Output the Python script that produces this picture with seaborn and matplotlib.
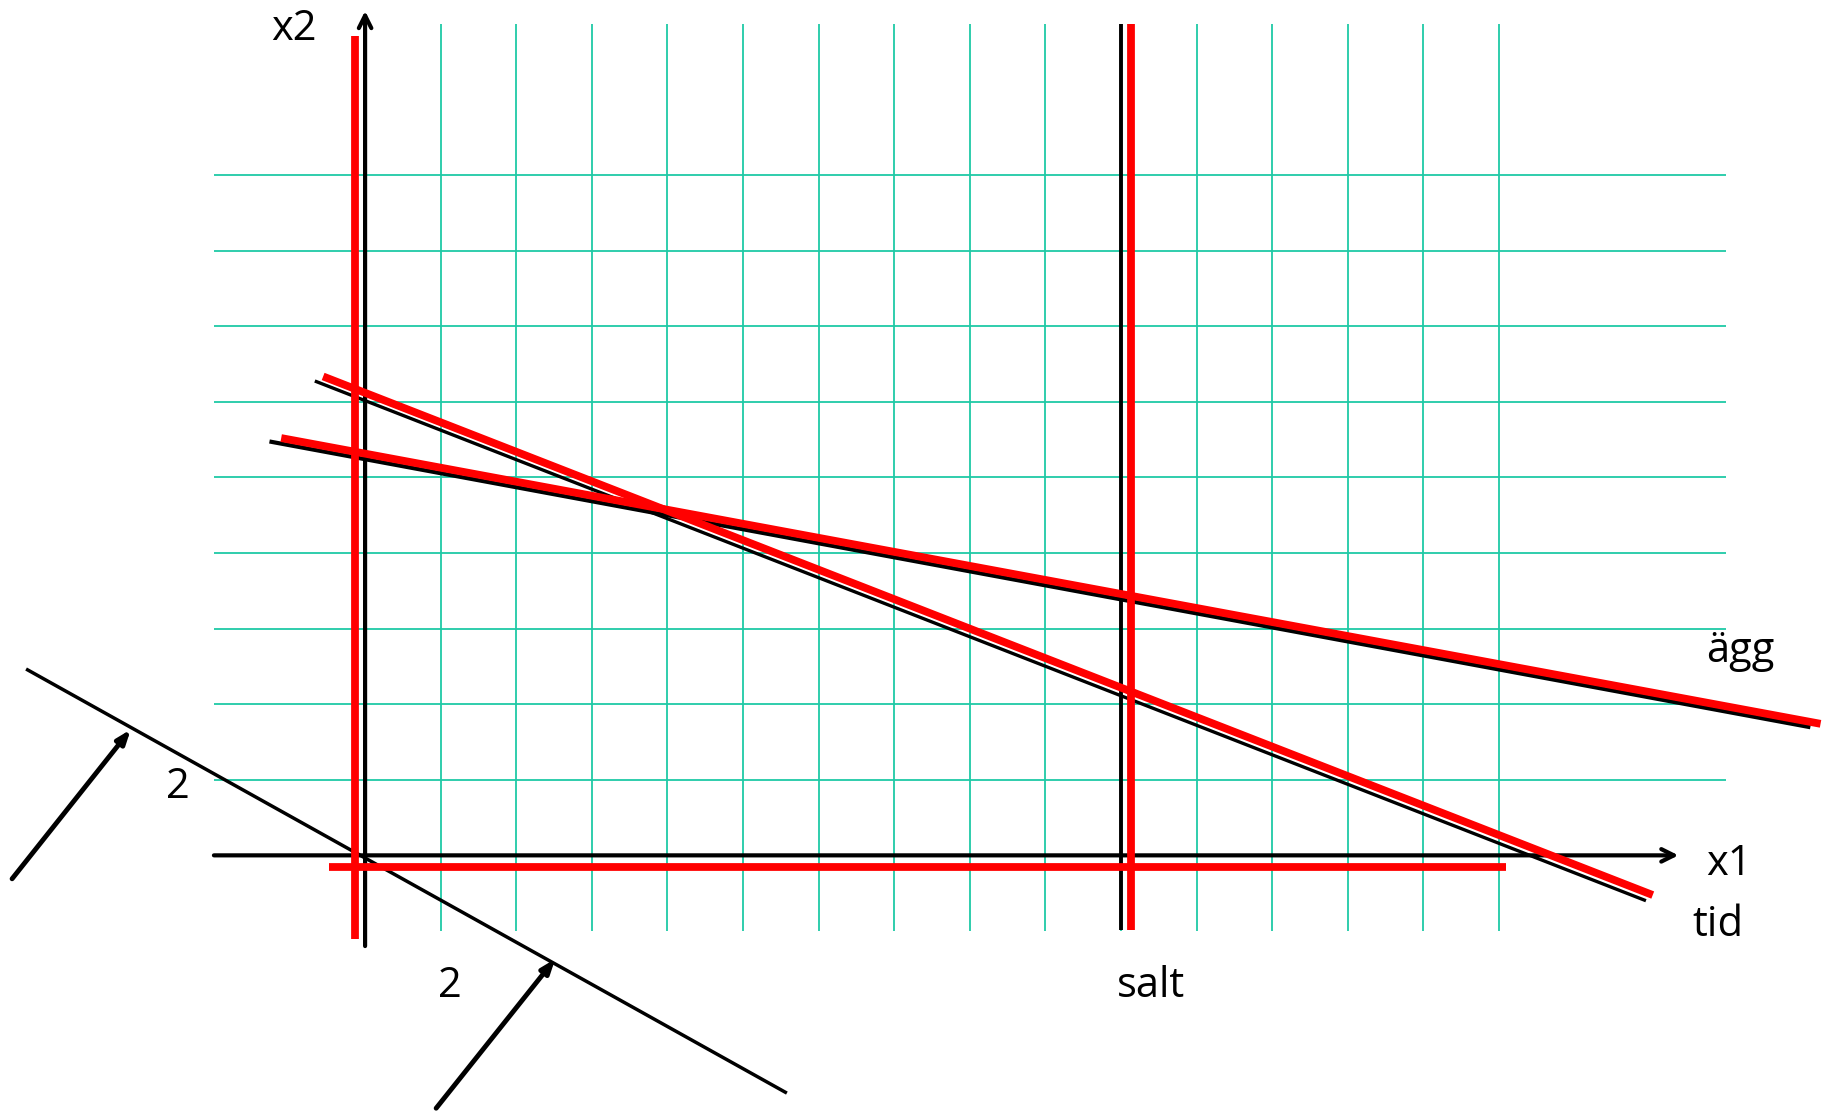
import numpy as np
import pandas as pd
import matplotlib
matplotlib.use('Agg')
import matplotlib.pyplot as plt
import seaborn as sns

# grid (1 cell = 2 units)
grid_x = [2, 4, 6, 8, 10, 12, 14, 16, 18, 20, 22, 24, 26, 28, 30]
grid_y = [2, 4, 6, 8, 10, 12, 14, 16, 18]

# constraint lines, black = original, red = shifted copy (x1 start/end, x2 start/end)
agg_black = ([-2.53, 38.24], [10.95, 3.39])
agg_red = ([-2.22, 38.51], [11.04, 3.48])
tid_black = ([-1.33, 33.89], [12.55, -1.20])
tid_red = ([-1.11, 34.07], [12.67, -1.05])
salt_black = ([20.01, 20.01], [-1.97, 21.99])
salt_red = ([20.26, 20.26], [-1.97, 21.99])
x1_red = ([-0.28, -0.28], [-2.2, 21.68])
x2_red = ([-0.96, 30.2], [-0.31, -0.31])

# objective function line through origin and its direction arrows
obj_line = ([-8.97, 11.16], [4.93, -6.29])
obj_arrows = [((-9.34, -0.62), (-6.20, 3.33)), ((1.88, -6.69), (5.03, -2.74))]

labels = ['x2', 'x1', 'ägg', 'tid', 'salt', '2', '2']
label_pos = [(-1.88, 21.85), (36.1, -0.22), (36.4, 5.4), (35.8, -1.85), (20.8, -3.45), (-4.96, 1.8), (2.25, -3.45)]

sns.set_style('white')
plt.rcParams['font.family'] = ['Open Sans', 'DejaVu Sans']

fig = plt.figure(figsize=(18.3, 11.12), dpi=100)
ax = fig.add_axes([0, 0, 1, 1])
ax.set_xlim(-9.66, 38.76)
ax.set_ylim(-6.79, 22.63)
ax.axis('off')

teal = '#1fc9a6'
ax.vlines(grid_x, -2, 22, color=teal, lw=1.3, zorder=1)
ax.hlines(grid_y, -4, 36, color=teal, lw=1.3, zorder=1)

# axes with open arrow heads
ax.annotate('', xy=(34.75, 0), xytext=(-4, 0),
            arrowprops=dict(arrowstyle='->,head_length=0.9,head_width=0.45', lw=3.0, color='black', shrinkA=0, shrinkB=0), zorder=3)
ax.annotate('', xy=(0, 22.34), xytext=(0, -2.4),
            arrowprops=dict(arrowstyle='->,head_length=0.9,head_width=0.45', lw=3.0, color='black', shrinkA=0, shrinkB=0), zorder=3)

def draw(line, color, lw, z):
    sns.lineplot(x=line[0], y=line[1], ax=ax, color=color, lw=lw, sort=False,
                 estimator=None, errorbar=None, zorder=z, solid_capstyle='butt')

draw(agg_black, 'black', 3.0, 3)
draw(salt_black, 'black', 2.8, 3)
draw(tid_black, 'black', 2.4, 3)
draw(obj_line, 'black', 2.5, 3)

for ln in [agg_red, tid_red, salt_red, x1_red, x2_red]:
    draw(ln, '#ff0000', 5.6, 4)

for start, end in obj_arrows:
    ax.annotate('', xy=end, xytext=start,
                arrowprops=dict(arrowstyle='-|>,head_length=0.8,head_width=0.3', lw=3.5, color='black', shrinkA=0, shrinkB=0), zorder=3)

for txt, (px, py) in zip(labels, label_pos):
    ax.text(px, py, txt, fontsize=30, ha='center', va='center', color='black')

fig.savefig('out.png', dpi=100)
